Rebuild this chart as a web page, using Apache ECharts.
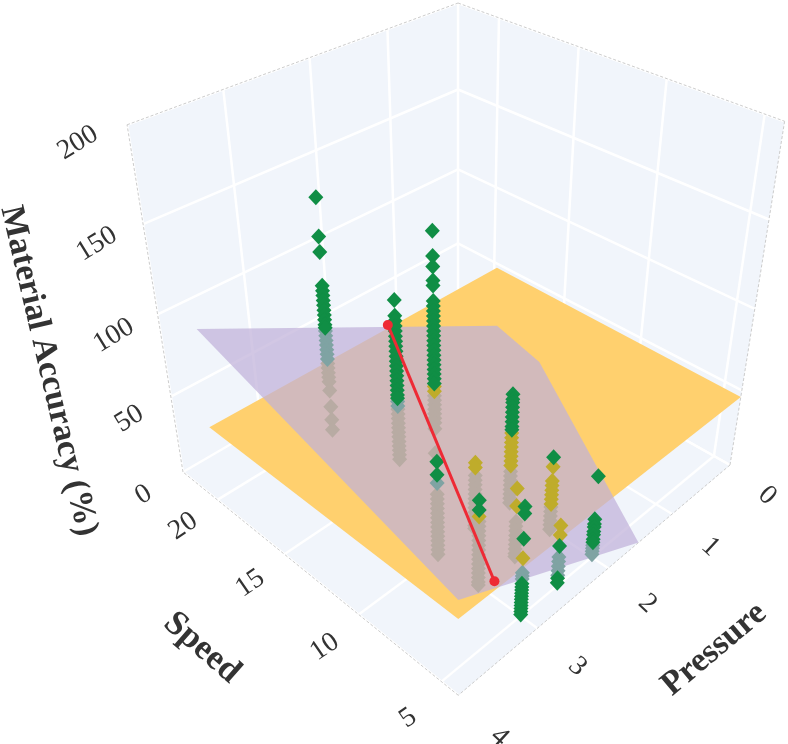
<!DOCTYPE html>
<html>
<head>
<meta charset="utf-8">
<script src="https://cdn.jsdelivr.net/npm/echarts@6/dist/echarts.min.js"></script>
<style>
html, body { margin: 0; padding: 0; background: #fff; }
#main { width: 788px; height: 744px; }
</style>
</head>
<body>
<div id="main"></div>
<script>
var pressureTicks = [0, 1, 2, 3, 4];
var speedTicks = [5, 10, 15, 20];
var accuracyTicks = [0, 50, 100, 150, 200];

// one entry per measuring column
var columnPressure = [2.5, 2.5, 2, 3, 2.5, 3, 2, 2.5, 3, 2, 2.5, 2];
var columnSpeed = [20, 15, 15, 10, 10, 7.5, 10, 7.5, 5, 7.5, 5, 5];

// accuracy values, split by how they look through the two planes
var greenZ = [
    [145, 123, 114, 94, 91, 88, 85, 82, 79, 76, 73, 70, 68],
    [111, 102, 99, 96, 93, 90, 87, 84, 81, 78, 75, 72, 69, 66, 63, 60, 57, 54, 52],
    [138, 124, 118, 110, 107, 98, 95, 92, 89, 86, 83, 80, 77, 74, 71, 68, 65, 62, 59, 56, 53, 50, 47],
    [60, 52],
    [],
    [54, 48],
    [70, 67, 65, 62, 59, 56, 53, 50, 48],
    [],
    [68, 64, 49, 21, 19, 17, 15, 13, 11, 9, 7, 5, 3, 1],
    [47],
    [26, 5, 2],
    [52, 25, 22, 20, 17, 15, 12, 10]
];
var oliveZ = [
    [],
    [],
    [45, 42],
    [],
    [43, 40],
    [44],
    [46, 43, 40, 37, 34, 31, 28, 25],
    [44, 33],
    [37],
    [41, 32, 29, 26, 23, 20, 17],
    [39, 33],
    []
];
var tealZ = [
    [66, 63, 60, 57, 54, 51, 48],
    [50, 47],
    [],
    [47],
    [],
    [],
    [],
    [],
    [28, 26, 24],
    [],
    [19, 16, 13, 10, 7],
    [8, 6, 4, 2]
];
var tanZ = [
    [45, 42, 39, 36, 33, 27, 16, 7, 0],
    [45, 42, 39, 36, 33, 30, 27, 24, 21, 18, 15, 12],
    [39, 36, 33, 30, 27, 24, 21, 17, 0],
    [40, 37, 34, 31, 28, 25, 22, 19, 16, 13, 10, 7, 4, 1],
    [35, 32, 29, 26, 23, 20, 17, 14, 11, 8, 5, 2, 0],
    [41, 38, 35, 32, 29, 26, 23, 20, 17, 14, 11, 8, 5, 2, 0],
    [21, 18, 15, 12, 9, 6, 3, 0],
    [23, 20, 17, 14, 11, 8, 5, 2, 0],
    [],
    [15, 12, 9, 6, 3, 0],
    [],
    []
];

// [pressure, speed, accuracy]
var orangePlane = [[4, 19.8, 49], [4, 4.05, 47.5], [0, 4.05, 45.7], [0, 19.8, 47]];
var purplePlane = [[4, 19.7, 108], [0, 19.7, 6], [0, 16.5, -3], [1.54, 4.05, 0], [4, 4.05, 58.6]];
var redLine = [[1.64, 20.1, 47], [3.5, 4.4, 47]];

var pMin = 0, pMax = 4, sMin = 4.05, sMax = 22.77, zMin = 0, zMax = 200;

// perspective of the box: back/left/right/top corners on the page plus weights
function project(p, s, z) {
    var u = (p - pMin) / (pMax - pMin);
    var v = (sMax - s) / (sMax - sMin);
    var w = (z - zMin) / (zMax - zMin);
    var d = 1 - 0.16 * u - 0.15 * v - 0.142 * w;
    var x = (458 - 304.3 * u + 162.5 * v - 65 * w) / d;
    var y = (312 + 84.5 * u + 83.25 * v - 309.4 * w) / d;
    return [x, y];
}

function polygonSeries(name, vertices, color) {
    return {
        name: name,
        type: 'custom',
        silent: true,
        clip: false,
        data: [[0, 0]],
        renderItem: function (params, api) {
            var points = vertices.map(function (c) {
                return api.coord(project(c[0], c[1], c[2]));
            });
            return { type: 'polygon', shape: { points: points }, style: { fill: color } };
        }
    };
}

function segmentSeries(name, segments, color, width, dash) {
    return {
        name: name,
        type: 'custom',
        silent: true,
        clip: false,
        data: segments.map(function () { return [0, 0]; }),
        renderItem: function (params, api) {
            var seg = segments[params.dataIndex];
            var a = api.coord(project(seg[0][0], seg[0][1], seg[0][2]));
            var b = api.coord(project(seg[1][0], seg[1][1], seg[1][2]));
            return {
                type: 'line',
                shape: { x1: a[0], y1: a[1], x2: b[0], y2: b[1] },
                style: { stroke: color, lineWidth: width, lineDash: dash || null }
            };
        }
    };
}

function markerSeries(name, zLists, color, size) {
    var data = [];
    zLists.forEach(function (list, i) {
        list.forEach(function (z) {
            data.push(project(columnPressure[i], columnSpeed[i], z));
        });
    });
    return {
        name: name,
        type: 'scatter',
        silent: true,
        symbol: 'diamond',
        symbolSize: size,
        itemStyle: { color: color, opacity: 1 },
        data: data
    };
}

function textSeries(name, labels, font, rotation) {
    return {
        name: name,
        type: 'custom',
        silent: true,
        clip: false,
        data: labels.map(function () { return [0, 0]; }),
        renderItem: function (params, api) {
            var l = labels[params.dataIndex];
            var c = api.coord(project(l.at[0], l.at[1], l.at[2]));
            return {
                type: 'text',
                x: c[0],
                y: c[1],
                rotation: rotation,
                style: {
                    text: l.text,
                    font: font,
                    fill: '#333333',
                    textAlign: 'center',
                    textVerticalAlign: 'middle'
                }
            };
        }
    };
}

var gridLines = [];
pressureTicks.forEach(function (p) {
    gridLines.push([[p, sMin, 0], [p, sMax, 0]]);
    gridLines.push([[p, sMax, 0], [p, sMax, zMax]]);
});
speedTicks.forEach(function (s) {
    gridLines.push([[pMin, s, 0], [pMax, s, 0]]);
    gridLines.push([[pMin, s, 0], [pMin, s, zMax]]);
});
accuracyTicks.forEach(function (z) {
    gridLines.push([[pMin, sMax, z], [pMax, sMax, z]]);
    gridLines.push([[pMin, sMax, z], [pMin, sMin, z]]);
});

var boxEdges = [
    [[pMax, sMax, 0], [pMax, sMax, zMax]],
    [[pMax, sMax, zMax], [pMin, sMax, zMax]],
    [[pMin, sMax, zMax], [pMin, sMin, zMax]],
    [[pMin, sMin, zMax], [pMin, sMin, 0]],
    [[pMin, sMin, 0], [pMax, sMin, 0]],
    [[pMax, sMin, 0], [pMax, sMax, 0]]
];

var wallColor = '#f1f5fb';
var markerSize = [15, 16];

var option = {
    animation: false,
    backgroundColor: '#ffffff',
    grid: { left: 0, right: 0, top: 0, bottom: 0 },
    xAxis: { type: 'value', min: 0, max: 788, show: false },
    yAxis: { type: 'value', min: 0, max: 744, inverse: true, show: false },
    series: [
        polygonSeries('floor', [[pMin, sMin, 0], [pMax, sMin, 0], [pMax, sMax, 0], [pMin, sMax, 0]], wallColor),
        polygonSeries('pressure wall', [[pMin, sMax, 0], [pMax, sMax, 0], [pMax, sMax, zMax], [pMin, sMax, zMax]], wallColor),
        polygonSeries('speed wall', [[pMin, sMin, 0], [pMin, sMax, 0], [pMin, sMax, zMax], [pMin, sMin, zMax]], wallColor),
        segmentSeries('grid', gridLines, '#ffffff', 2.5),
        segmentSeries('edges', boxEdges, '#cccccc', 1, [3, 2]),
        polygonSeries('plane A', orangePlane, '#ffd06e'),
        polygonSeries('plane B', purplePlane, 'rgba(192,178,218,0.72)'),
        markerSeries('under both', tanZ, '#b8aba3', markerSize),
        markerSeries('under B', tealZ, '#7fa3a3', markerSize),
        markerSeries('under A', oliveZ, '#bfac2b', markerSize),
        {
            name: 'intersection',
            type: 'line',
            silent: true,
            symbol: 'circle',
            symbolSize: 10,
            showSymbol: true,
            lineStyle: { color: '#ee2a35', width: 3 },
            itemStyle: { color: '#ee2a35' },
            data: redLine.map(function (c) { return project(c[0], c[1], c[2]); })
        },
        markerSeries('above', greenZ, '#108e45', markerSize),
        textSeries('speed ticks', speedTicks.map(function (s) {
            return { text: String(s), at: [4.45, s - 0.3, 0] };
        }), '28px "Liberation Serif"', 0.6),
        textSeries('accuracy ticks', accuracyTicks.map(function (z) {
            return { text: String(z), at: [4.47, sMax, z] };
        }), '28px "Liberation Serif"', 0.55),
        textSeries('pressure ticks', pressureTicks.map(function (p) {
            return { text: String(p), at: [p * 0.985 + 0.12, 1.55, 0] };
        }), '28px "Liberation Serif"', -0.75),
        textSeries('speed title', [{ text: 'Speed', at: [5.2, 13.3, 0] }], 'bold 35px "Liberation Serif"', -0.72),
        textSeries('pressure title', [{ text: 'Pressure', at: [2.1, -1.95, 0] }], 'bold 34px "Liberation Serif"', 0.7),
        textSeries('accuracy title', [{ text: 'Material Accuracy (%)', at: [5.14, sMax, 98] }], 'bold 34px "Liberation Serif"', -1.34)
    ]
};

var chart = echarts.init(document.getElementById('main'), null, { renderer: 'canvas' });
chart.setOption(option);
</script>
</body>
</html>
